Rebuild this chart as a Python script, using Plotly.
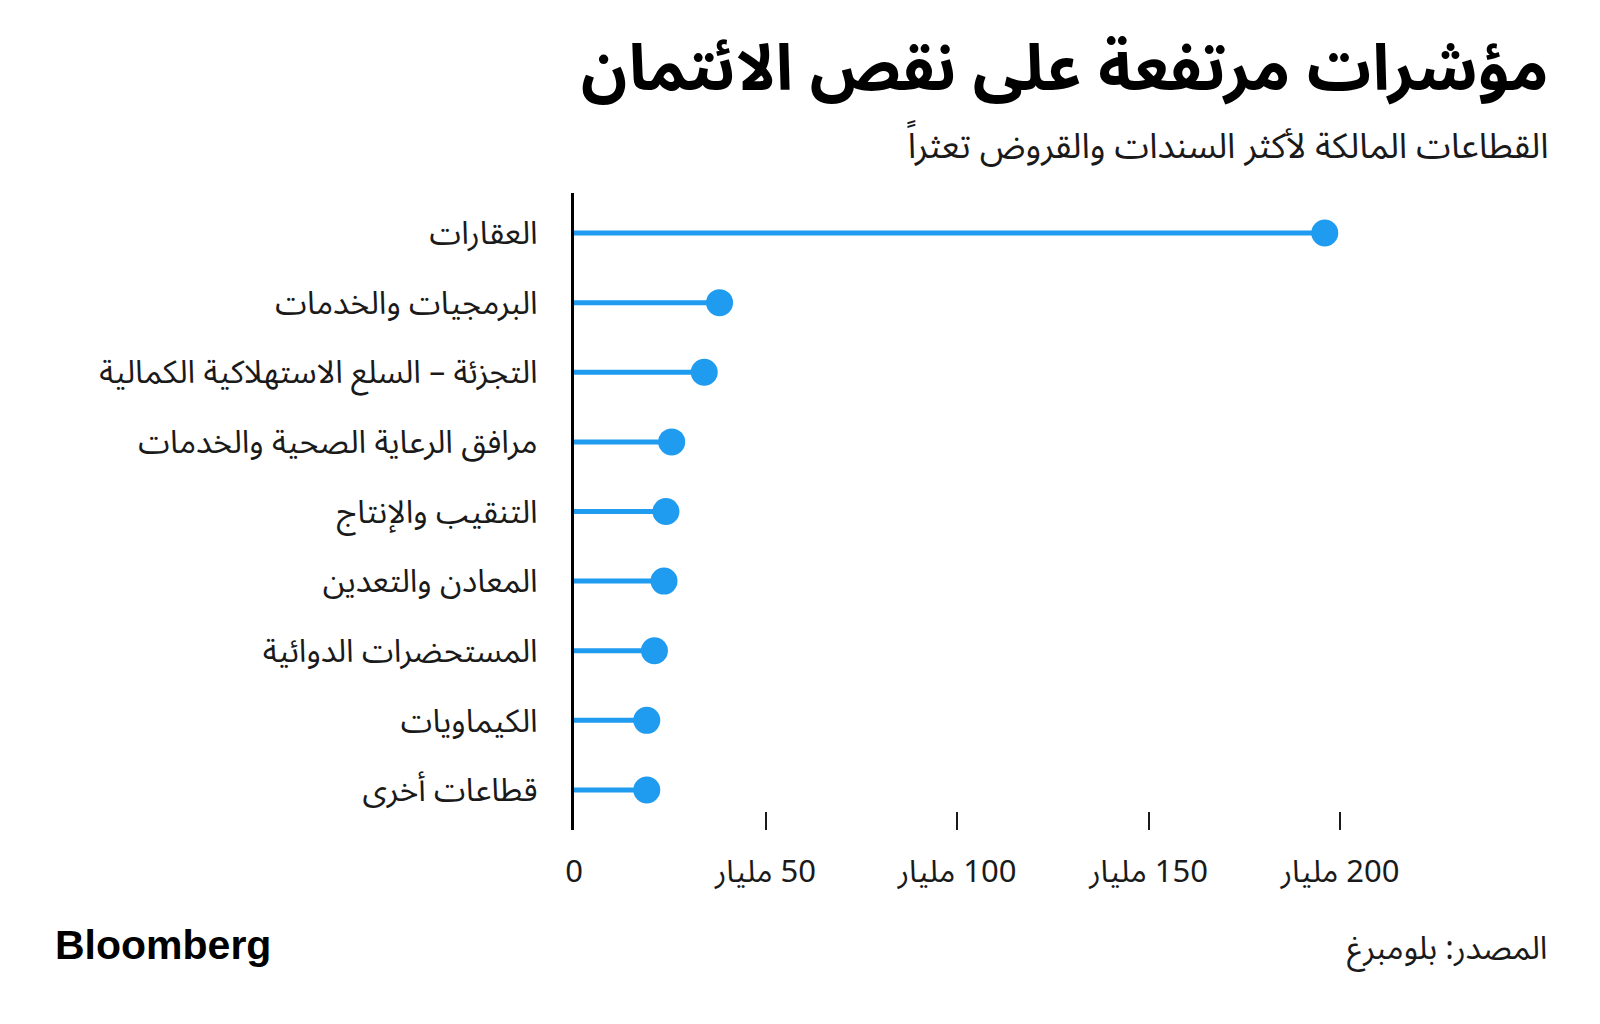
import plotly.graph_objects as go

# Data
categories = [
    "العقارات",
    "البرمجيات والخدمات",
    "التجزئة – السلع الاستهلاكية الكمالية",
    "مرافق الرعاية الصحية والخدمات",
    "التنقيب والإنتاج",
    "المعادن والتعدين",
    "المستحضرات الدوائية",
    "الكيماويات",
    "قطاعات أخرى",
]
values = [196, 38, 34, 25.5, 24, 23.5, 21, 19, 19]  # billions

tick_vals = [0, 50, 100, 150, 200]
tick_text = ["0", "\u200f50 مليار", "\u200f100 مليار", "\u200f150 مليار", "\u200f200 مليار"]

title_text = "مؤشرات مرتفعة على نقص الائتمان"
subtitle_text = "القطاعات المالكة لأكثر السندات والقروض تعثراً"
source_text = "المصدر: بلومبرغ"

BLUE = "#1f9bf0"
AR_FONT = "Noto Sans Arabic, DejaVu Sans, sans-serif"

# Stems
stem_x, stem_y = [], []
for c, v in zip(categories, values):
    stem_x += [0, v, None]
    stem_y += [c, c, None]

fig = go.Figure()
fig.add_trace(go.Scatter(
    x=stem_x, y=stem_y, mode="lines",
    line=dict(color=BLUE, width=5),
    hoverinfo="skip", showlegend=False,
))
fig.add_trace(go.Scatter(
    x=values, y=categories, mode="markers",
    marker=dict(color=BLUE, size=27, line=dict(width=0)),
    showlegend=False, cliponaxis=False,
))

W, H = 1600, 1024
left_px, right_px = 573.5, 1455.3
top_px, bottom_px = 193, 830

def px_x(p):
    return (p - left_px) / (right_px - left_px)

def px_y(p):
    return (bottom_px - p) / (bottom_px - top_px)

fig.update_layout(
    width=W, height=H,
    margin=dict(l=left_px, r=W - right_px, t=top_px, b=H - bottom_px, pad=0),
    paper_bgcolor="white", plot_bgcolor="white",
    font=dict(family=AR_FONT, color="#1a1a1a", size=26),
    xaxis=dict(
        range=[0, 230], showgrid=False, zeroline=False, showline=False,
        tickmode="array", tickvals=tick_vals, ticktext=tick_text,
        ticks="inside", ticklen=18, tickwidth=2, tickcolor="#1a1a1a",
        tickfont=dict(size=31, family=AR_FONT, color="#1a1a1a"),
        ticklabelstandoff=20,
    ),
    yaxis=dict(
        type="category", categoryorder="array", categoryarray=categories,
        range=[8.575, -0.575], showgrid=False, zeroline=False,
        showline=True, linecolor="#000000", linewidth=3,
        ticks="", tickfont=dict(size=32, family=AR_FONT, color="#1a1a1a"),
        ticklabelstandoff=27,
    ),
)

fig.add_annotation(
    text=title_text, xref="paper", yref="paper",
    x=px_x(1551), y=px_y(69),
    xanchor="right", yanchor="middle", showarrow=False,
    font=dict(size=64, family=AR_FONT, color="#000000", weight="bold"),
)
fig.add_annotation(
    text=subtitle_text, xref="paper", yref="paper",
    x=px_x(1551), y=px_y(147),
    xanchor="right", yanchor="middle", showarrow=False,
    font=dict(size=35, family=AR_FONT, color="#1a1a1a"),
)
fig.add_annotation(
    text=source_text, xref="paper", yref="paper",
    x=px_x(1549), y=px_y(949),
    xanchor="right", yanchor="middle", showarrow=False,
    font=dict(size=32, family=AR_FONT, color="#1a1a1a"),
)
fig.add_annotation(
    text="<b>Bloomberg</b>", xref="paper", yref="paper",
    x=px_x(52), y=px_y(945),
    xanchor="left", yanchor="middle", showarrow=False,
    font=dict(size=41, family="Liberation Sans, Arial, sans-serif", color="#000000"),
)

fig.write_html("out.html")
